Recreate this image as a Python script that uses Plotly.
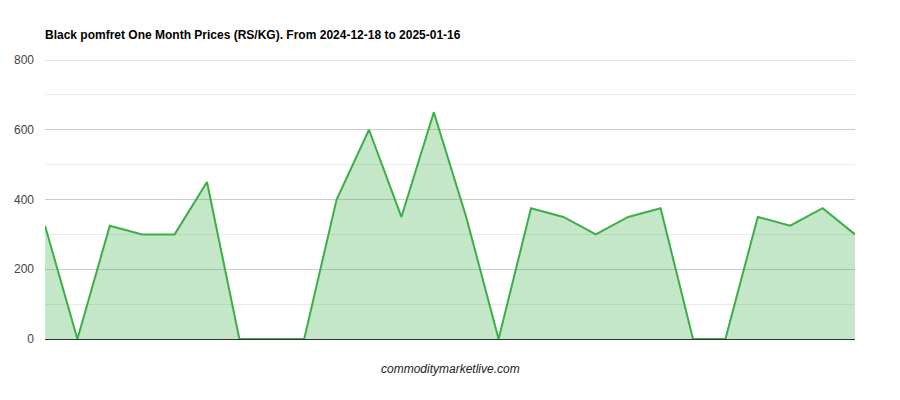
import plotly.graph_objects as go

# Prices per day (RS/KG), 26 trading days
day_index = list(range(26))
prices = [325, 0, 325, 300, 300, 450, 0, 0, 0, 400, 600, 350, 650,
          350, 0, 375, 350, 300, 350, 375, 0, 0, 350, 325, 375, 300]
y_ticks = [0, 200, 400, 600, 800]

title = 'Black pomfret One Month Prices (RS/KG). From 2024-12-18 to 2025-01-16'

# page has an 8px body margin, so the figure is a bit smaller than the window
W, H = 892, 392

fig = go.Figure()
fig.add_trace(go.Scatter(x=day_index, y=prices, mode='lines', fill='tozeroy',
                         line=dict(color='#3cae48', width=2),
                         fillcolor='rgba(60,174,72,0.3)', hoverinfo='x+y'))

fig.update_layout(
    width=W, height=H,
    margin=dict(l=37, r=45, t=52, b=61),
    paper_bgcolor='white', plot_bgcolor='white',
    font=dict(family='Arial, Liberation Sans, sans-serif', size=12, color='#444'),
    title=dict(text='<b>' + title + '</b>', x=37 / W, xanchor='left',
               y=1 - 27 / H, yanchor='middle',
               font=dict(size=12, color='#000')),
    showlegend=False,
)
fig.update_xaxes(range=[0, 25], showticklabels=False, showgrid=False,
                 zeroline=False, showline=False, fixedrange=True)
fig.update_yaxes(range=[0, 800], tickvals=y_ticks, showgrid=True,
                 gridcolor='#cccccc', gridwidth=1,
                 minor=dict(dtick=100, showgrid=True, gridcolor='#ebebeb'),
                 zeroline=True, zerolinecolor='#333333', zerolinewidth=1,
                 tickfont=dict(color='#444', size=12), ticks='', ticklen=0,
                 ticklabelstandoff=10, automargin=False)
# top gridline at 800 (plotly drops the grid line on the range edge)
fig.add_shape(type='line', xref='paper', yref='y', x0=0, x1=1,
              y0=y_ticks[-1], y1=y_ticks[-1], line=dict(color='#cccccc', width=1),
              layer='below')
fig.add_annotation(text='<i>commoditymarketlive.com</i>', xref='paper', yref='paper',
                   x=(450 - 8 - 37) / (W - 37 - 45), y=-30 / 279, showarrow=False,
                   yanchor='middle', font=dict(size=12, color='#222'))

fig.write_html("out.html")
